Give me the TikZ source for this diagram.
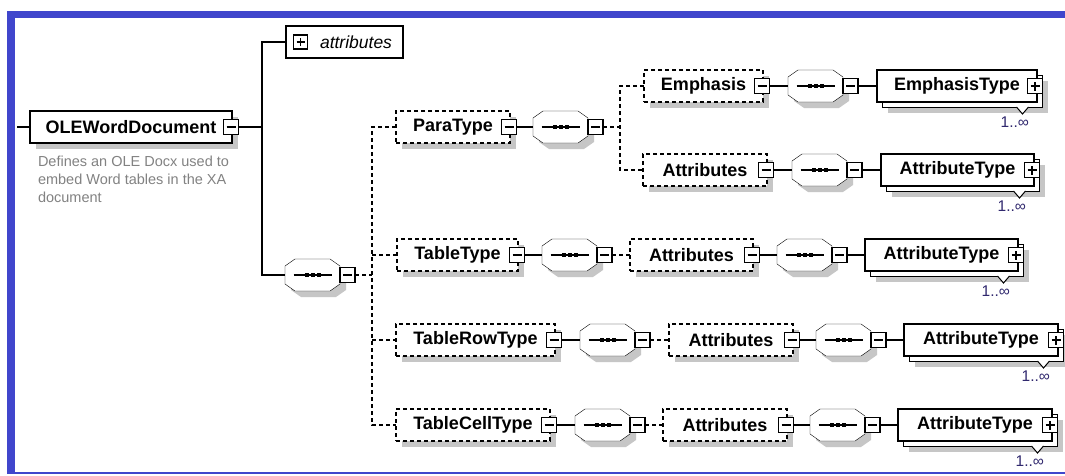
\documentclass[tikz,border=0pt]{standalone}
\usepackage{fontspec}
\setmainfont{Liberation Sans}
\usetikzlibrary{positioning}

\definecolor{frameblue}{RGB}{64,70,204}
\definecolor{shadowgray}{RGB}{198,198,198}
\definecolor{descgray}{RGB}{130,130,130}
\definecolor{multblue}{RGB}{48,40,110}

\pgfdeclarelayer{background}
\pgfsetlayers{background,main}

\begin{document}
\begin{tikzpicture}[x=1pt, y=-1pt, line width=1.3pt,
  every node/.style={outer sep=0pt},
  conn/.style={draw, line width=1.3pt},
  optconn/.style={draw, line width=1.3pt, dash pattern=on 4pt off 3pt},
  elem/.style={rectangle, draw, fill=white, minimum height=32pt, inner sep=0pt, font=\fontsize{18}{20}\selectfont\bfseries},
  optelem/.style={elem, dash pattern=on 4pt off 3pt},
  typebox/.style={elem},
  attrbox/.style={rectangle, draw, fill=white, minimum height=32pt, inner xsep=11pt, text width=95pt, align=right, font=\fontsize{17.5}{20}\selectfont\itshape},
  seqbox/.style={rectangle, minimum width=55pt, minimum height=32pt, inner sep=0pt},
  minusbox/.style={rectangle, draw, fill=white, minimum size=15pt, inner sep=0pt, line width=1.1pt,
    path picture={\draw[line width=1.1pt] ([xshift=3pt]path picture bounding box.west) -- ([xshift=-3pt]path picture bounding box.east);}},
  plusbox/.style={minusbox,
    path picture={\draw[line width=1.1pt] ([xshift=3pt]path picture bounding box.west) -- ([xshift=-3pt]path picture bounding box.east)
      ([yshift=3pt]path picture bounding box.south) -- ([yshift=-3pt]path picture bounding box.north);}},
  mult/.style={inner sep=0pt, text=multblue, font=\fontsize{15.5}{17}\selectfont},
  desc/.style={inner sep=0pt, text=descgray, align=left, font=\fontsize{14.5}{18}\selectfont}]

\useasboundingbox (0,0) rectangle (1065,475);

% root element
\coordinate (docin) at (17,127);
\coordinate (docfork) at (262,127);
\node[elem, minimum width=202pt] (doc) at (131,127) {OLEWordDocument};
\node[minusbox] (docm) at ([xshift=-1pt]doc.east) {};
\node[desc, anchor=north west] (docdesc) at (38,156) {Defines an OLE Docx used to\\embed Word tables in the XA\\document};
\node[attrbox] (attrs) at (344.5,42) {attributes};
\node[plusbox, minimum size=14pt] (attrsp) at ([xshift=14.5pt]attrs.west) {};
\node[seqbox] (seq0) at (312.5,275) {};
\node[minusbox, right=0pt of seq0] (seq0m) {};
\coordinate (seqfork) at (372,275);

% ParaType
\node[optelem, minimum width=114pt, anchor=west] (para) at (396,127) {ParaType};
\node[minusbox] (param) at ([xshift=-1pt]para.east) {};
\node[seqbox, right=23pt of para] (seq1) {};
\node[minusbox, right=0pt of seq1] (seq1m) {};
\coordinate (parafork) at (620,127);

\node[optelem, minimum width=119pt, anchor=west] (emph) at (644,86) {Emphasis};
\node[minusbox] (emphm) at ([xshift=-1pt]emph.east) {};
\node[seqbox, right=25pt of emph] (seq2) {};
\node[minusbox, right=0pt of seq2] (seq2m) {};
\node[typebox, minimum width=160pt, right=34pt of seq2] (emphty) {EmphasisType};
\node[plusbox] (emphtyp) at ([xshift=-2pt]emphty.east) {};

\node[optelem, minimum width=124pt, anchor=west] (pattr) at (643,170) {Attributes};
\node[minusbox] (pattrm) at ([xshift=-1pt]pattr.east) {};
\node[seqbox, right=25pt of pattr] (seq3) {};
\node[minusbox, right=0pt of seq3] (seq3m) {};
\node[typebox, minimum width=153pt, right=34pt of seq3] (pattrty) {AttributeType};
\node[plusbox] (pattrtyp) at ([xshift=-2pt]pattrty.east) {};

% TableType
\node[optelem, minimum width=121pt, anchor=west] (tab) at (397,255) {TableType};
\node[minusbox] (tabm) at ([xshift=-1pt]tab.east) {};
\node[seqbox, right=24pt of tab] (seq4) {};
\node[minusbox, right=0pt of seq4] (seq4m) {};
\node[optelem, minimum width=123pt, right=33pt of seq4] (tattr) {Attributes};
\node[minusbox] (tattrm) at ([xshift=-1pt]tattr.east) {};
\node[seqbox, right=24pt of tattr] (seq5) {};
\node[minusbox, right=0pt of seq5] (seq5m) {};
\node[typebox, minimum width=153pt, right=33pt of seq5] (tattrty) {AttributeType};
\node[plusbox] (tattrtyp) at ([xshift=-2pt]tattrty.east) {};

% TableRowType
\node[optelem, minimum width=159pt, anchor=west] (row) at (396,340) {TableRowType};
\node[minusbox] (rowm) at ([xshift=-1pt]row.east) {};
\node[seqbox, right=25pt of row] (seq6) {};
\node[minusbox, right=0pt of seq6] (seq6m) {};
\node[optelem, minimum width=124pt, right=34pt of seq6] (rattr) {Attributes};
\node[minusbox] (rattrm) at ([xshift=-1pt]rattr.east) {};
\node[seqbox, right=23pt of rattr] (seq7) {};
\node[minusbox, right=0pt of seq7] (seq7m) {};
\node[typebox, minimum width=154pt, right=33pt of seq7] (rattrty) {AttributeType};
\node[plusbox] (rattrtyp) at ([xshift=-2pt]rattrty.east) {};

% TableCellType
\node[optelem, minimum width=154pt, anchor=west] (cell) at (396,425) {TableCellType};
\node[minusbox] (cellm) at ([xshift=-1pt]cell.east) {};
\node[seqbox, right=25pt of cell] (seq8) {};
\node[minusbox, right=0pt of seq8] (seq8m) {};
\node[optelem, minimum width=124pt, right=33pt of seq8] (cattr) {Attributes};
\node[minusbox] (cattrm) at ([xshift=-1pt]cattr.east) {};
\node[seqbox, right=23pt of cattr] (seq9) {};
\node[minusbox, right=0pt of seq9] (seq9m) {};
\node[typebox, minimum width=154pt, right=33pt of seq9] (cattrty) {AttributeType};
\node[plusbox] (cattrtyp) at ([xshift=-2pt]cattrty.east) {};

% frame, shadows and sequence octagons
\begin{pgfonlayer}{background}
  \fill[white] (0,0) rectangle (1065,475);
  \fill[frameblue] (7,11) rectangle (1065,18);
  \fill[frameblue] (7,11) rectangle (15,474);
  \fill[frameblue] (7,472) rectangle (1065,474);
  \foreach \n in {doc, para, emph, pattr, tab, tattr, row, rattr, cell, cattr}
    \fill[shadowgray] ([shift={(6pt,-6pt)}]\n.south west) rectangle ([shift={(6pt,-6pt)}]\n.north east);
  \foreach \n in {emphty, pattrty, tattrty, rattrty, cattrty} {
    \fill[shadowgray] ([shift={(11pt,-11pt)}]\n.south west) rectangle ([shift={(11pt,-11pt)}]\n.north east);
    \draw[fill=white] ([shift={(5pt,-5pt)}]\n.south west) rectangle ([shift={(5pt,-5pt)}]\n.north east);
  }
  \foreach \i in {0,...,9} {
    \fill[shadowgray] ([shift={(16pt,-6pt)}]seq\i.north west) -- ++(35pt,0pt) -- ++(10pt,-7pt) -- ++(0pt,-18pt)
      -- ++(-10pt,-7pt) -- ++(-35pt,0pt) -- ++(-10pt,7pt) -- ++(0pt,18pt) -- cycle;
    \draw[fill=white] ([xshift=10pt]seq\i.north west) -- ++(35pt,0pt) -- ++(10pt,-7pt) -- ++(0pt,-18pt)
      -- ++(-10pt,-7pt) -- ++(-35pt,0pt) -- ++(-10pt,7pt) -- ++(0pt,18pt) -- cycle;
    \draw[line width=1.2pt] ([xshift=-19pt]seq\i.center) -- ([xshift=19pt]seq\i.center);
    \foreach \d in {-8,-2,4}
      \fill ([shift={(\d pt,-2pt)}]seq\i.center) rectangle ++(4pt,4pt);
  }
\end{pgfonlayer}

% occurrence marks
\foreach \t in {emphty, pattrty, tattrty, rattrty, cattrty} {
  \draw[line width=1pt, fill=white] ([xshift=-20.5pt, yshift=-5pt]\t.south east) -- ++(6pt,-7pt) -- ++(6pt,7pt);
  \node[mult, anchor=north east] (\t-n) at ([xshift=-8pt, yshift=-15pt]\t.south east) {1..∞};
}

% connectors
\draw[conn] (docin) -- (doc);
\draw[conn] (docm) -- (docfork) |- (attrs);
\draw[conn] (docfork) |- (seq0);
\draw[optconn] (seq0m) -- (seqfork);
\draw[optconn] (para) -| (seqfork) |- (cell);
\draw[optconn] (seqfork |- tab) -- (tab);
\draw[optconn] (seqfork |- row) -- (row);

\draw[conn] (param) -- (seq1);
\draw[optconn] (seq1m) -- (parafork);
\draw[optconn] (emph) -| (parafork) |- (pattr);
\draw[conn] (emphm) -- (seq2);
\draw[conn] (seq2m) -- (emphty);
\draw[conn] (pattrm) -- (seq3);
\draw[conn] (seq3m) -- (pattrty);

\draw[conn] (tabm) -- (seq4);
\draw[optconn] (seq4m) -- (tattr);
\draw[conn] (tattrm) -- (seq5);
\draw[conn] (seq5m) -- (tattrty);

\draw[conn] (rowm) -- (seq6);
\draw[optconn] (seq6m) -- (rattr);
\draw[conn] (rattrm) -- (seq7);
\draw[conn] (seq7m) -- (rattrty);

\draw[conn] (cellm) -- (seq8);
\draw[optconn] (seq8m) -- (cattr);
\draw[conn] (cattrm) -- (seq9);
\draw[conn] (seq9m) -- (cattrty);

\end{tikzpicture}
\end{document}
